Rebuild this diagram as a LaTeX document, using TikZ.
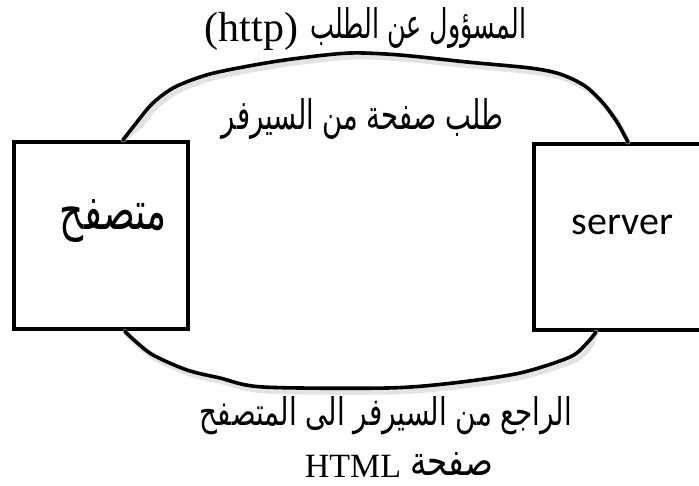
\documentclass[tikz,border=0pt]{standalone}
\usepackage{fontspec}
\usepackage{graphicx}
\setmainfont{Liberation Serif}
\newfontfamily\arabicfont[Script=Arabic]{DejaVu Sans}
\newfontfamily\calibrifont{Carlito}
\TeXXeTstate=1
\usetikzlibrary{calc}
\tikzset{
  boxnode/.style={draw=black, line width=4pt, minimum width=173.5pt, minimum height=187.5pt, inner sep=0pt, fill=white},
  wire/.style={draw=black, line width=3.6pt, line cap=round, line join=round},
  wireshadow/.style={draw=black!18, line width=5pt, line cap=round, line join=round, opacity=0.6},
  label/.style={anchor=base, inner sep=0pt, outer sep=0pt},
}
\newcommand{\artext}[3]{\resizebox{#1}{#2}{\arabicfont\fontsize{30}{36}\selectfont #3}}
\begin{document}
\begin{tikzpicture}[x=1pt,y=-1pt]
\useasboundingbox (0,0) rectangle (699,486);
\fill[white] (0,0) rectangle (699,486);

% boxes
\node[boxnode] (browser) at (100.75,235.75) {};
\node[boxnode, minimum width=186pt, minimum height=186pt] (server) at (627,237) {};

% connector end points
\coordinate (t0) at ($(browser.north west)+(111,0)$);
\coordinate (t1) at ($(server.north west)+(96,0)$);
\coordinate (b0) at ($(browser.south west)+(113,0)$);
\coordinate (b1) at ($(server.south west)+(64,0)$);

\def\toppath{(t0) (137,122) (153,103) (175,87) (210,74) (260,64) (300,58) (350,53) (400,55) (467,62) (530,68) (560,74) (585,86) (603,103) (617,122) (t1)}
\def\botpath{(b0) (134,340) (153,355) (187,370) (220,378) (263,387) (387,388) (453,383) (520,373) (570,357) (587,343) (b1)}

% shadows
\draw[wireshadow, shift={(3,4)}] plot[smooth, tension=0.5] coordinates {\toppath};
\draw[wireshadow, shift={(3,4)}] plot[smooth, tension=0.5] coordinates {\botpath};

% connectors
\draw[wire] plot[smooth, tension=0.5] coordinates {\toppath};
\draw[wire] plot[smooth, tension=0.5] coordinates {\botpath};

% texts
\node[label, font=\fontsize{42}{50}\selectfont] (toptext) at (365.5,42)
  {(http)\hspace{12pt}\raisebox{3pt}{\artext{216pt}{31pt}{\beginR المسؤول عن الطلب\endR}}};
\node[label] (reqtext) at (362.5,130)
  {\artext{281pt}{31pt}{\beginR طلب صفحة من السيرفر\endR}};
\node[label] (browsertext) at ($(browser.center)+(12.75,-5.75)$)
  {\artext{107pt}{30pt}{\beginR متصفح\endR}};
\node[label, font=\calibrifont\fontsize{40}{48}\selectfont] (servertext) at ($(server.center)+(-4.5,-2)$) {server};
\node[label] (resptext) at (386,425)
  {\artext{372pt}{29pt}{\beginR الراجع من السيرفر الى المتصفح\endR}};
\node[label, font=\fontsize{34}{40}\selectfont] (htmltext) at (399,477)
  {HTML\hspace{9pt}\raisebox{2pt}{\artext{83pt}{23pt}{\beginR صفحة\endR}}};
\end{tikzpicture}
\end{document}
